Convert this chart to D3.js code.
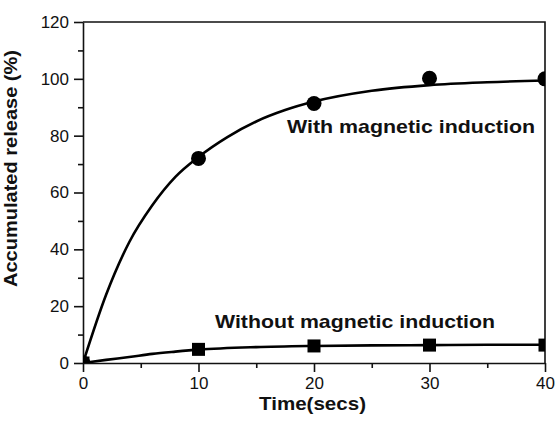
<!DOCTYPE html>
<html>
<head>
<meta charset="utf-8">
<script src="https://cdn.jsdelivr.net/npm/d3@7"></script>
<style>
  html, body { margin: 0; padding: 0; background: #fff; }
  text { font-family: "Liberation Sans", Arial, Helvetica, sans-serif; fill: #111; }
</style>
</head>
<body>
<svg id="chart" width="557" height="423"></svg>
<script>
// ---- data ----
const withPts = [[0, 0], [10, 72], [20, 91.3], [30, 100.2], [40, 100]];
const withoutPts = [[0, 0], [10, 4.8], [20, 6.0], [30, 6.3], [40, 6.3]];
// fitted curves, sampled by eye
const withFit = [[0, 0], [2, 24], [4, 42.5], [6, 55.5], [8, 65.5], [10, 72.5], [12.5, 79.5],
  [15, 85], [17.5, 89], [20, 92], [25, 95.8], [30, 97.8], [35, 98.8], [40, 99.4]];
const withoutFit = [[0, 0], [2, 1.1], [4, 2.1], [6, 3.2], [8, 4.0], [10, 4.7], [15, 5.6],
  [20, 6.0], [25, 6.2], [30, 6.3], [35, 6.4], [40, 6.4]];
const xTicks = [0, 10, 20, 30, 40];
const xMinor = [5, 15, 25, 35];
const yTicks = [0, 20, 40, 60, 80, 100, 120];
const yMinor = [10, 30, 50, 70, 90, 110];

const svg = d3.select('#chart');
const L = 83, R = 545, T = 22, B = 363;

const x = d3.scaleLinear().domain([0, 40]).range([L, R]);
const y = d3.scaleLinear().domain([0, 120]).range([B, T]);

// ---- axes ----
const xAx = svg.append('g').attr('transform', `translate(0,${B})`)
  .call(d3.axisBottom(x).tickValues(xTicks).tickSize(9).tickPadding(5).tickSizeOuter(0));
svg.append('g').attr('transform', `translate(0,${B})`)
  .call(d3.axisBottom(x).tickValues(xMinor).tickSize(5).tickFormat(() => '').tickSizeOuter(0))
  .select('.domain').remove();

const yAx = svg.append('g').attr('transform', `translate(${L},0)`)
  .call(d3.axisLeft(y).tickValues(yTicks).tickSize(9).tickPadding(5).tickSizeOuter(0));
svg.append('g').attr('transform', `translate(${L},0)`)
  .call(d3.axisLeft(y).tickValues(yMinor).tickSize(5).tickFormat(() => '').tickSizeOuter(0))
  .select('.domain').remove();

svg.selectAll('.domain, .tick line').attr('stroke', '#111').attr('stroke-width', 1.6);
svg.selectAll('.tick text').attr('font-size', 17).attr('fill', '#111')
  .attr('font-family', '"Liberation Sans", Arial, sans-serif');

// top and right frame
svg.append('path')
  .attr('d', `M${L},${T}H${R}V${B}`)
  .attr('fill', 'none').attr('stroke', '#111').attr('stroke-width', 1.6);

// ---- curves ----
svg.append('clipPath').attr('id', 'plot')
  .append('rect').attr('x', L).attr('y', T).attr('width', R - L).attr('height', B - T);

const g = svg.append('g').attr('clip-path', 'url(#plot)');
const line = d3.line().x(d => x(d[0])).y(d => y(d[1])).curve(d3.curveMonotoneX);

[withFit, withoutFit].forEach(s => {
  g.append('path').datum(s).attr('d', line)
    .attr('fill', 'none').attr('stroke', '#000').attr('stroke-width', 2.6);
});

g.selectAll('circle.pt').data(withPts).join('circle')
  .attr('class', 'pt')
  .attr('cx', d => x(d[0])).attr('cy', d => y(d[1])).attr('r', 7.5).attr('fill', '#000');

const sq = 13;
g.selectAll('rect.pt').data(withoutPts).join('rect')
  .attr('class', 'pt')
  .attr('x', d => x(d[0]) - sq / 2).attr('y', d => y(d[1]) - sq / 2)
  .attr('width', sq).attr('height', sq).attr('fill', '#000');

// ---- labels ----
svg.append('text').attr('x', 287).attr('y', 133)
  .attr('font-size', 19).attr('font-weight', 'bold')
  .attr('textLength', 248).attr('lengthAdjust', 'spacingAndGlyphs')
  .text('With magnetic induction');

svg.append('text').attr('x', 215).attr('y', 328)
  .attr('font-size', 19).attr('font-weight', 'bold')
  .attr('textLength', 280).attr('lengthAdjust', 'spacingAndGlyphs')
  .text('Without magnetic induction');

svg.append('text').attr('x', 259).attr('y', 410)
  .attr('font-size', 19).attr('font-weight', 'bold')
  .attr('textLength', 107).attr('lengthAdjust', 'spacingAndGlyphs')
  .text('Time(secs)');

svg.append('text').attr('transform', 'translate(17,287) rotate(-90)')
  .attr('font-size', 19).attr('font-weight', 'bold')
  .attr('textLength', 237).attr('lengthAdjust', 'spacingAndGlyphs')
  .text('Accumulated release (%)');
</script>
</body>
</html>
